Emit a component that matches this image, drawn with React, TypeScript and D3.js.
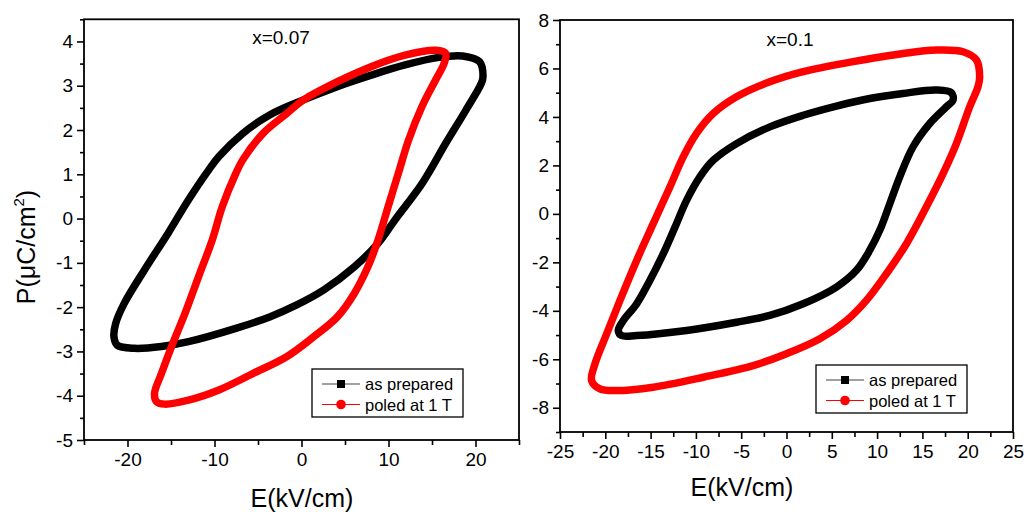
import React, { useEffect, useRef } from "react";
import * as d3 from "d3";

// P-E loops, [E (kV/cm), P (uC/cm2)]
const leftPrepared: [number, number][] = [
  [20.86, 3.2], [20.47, 3.54], [18.52, 3.67], [15.8, 3.64], [11.9, 3.47],
  [8.02, 3.24], [4.1, 2.98], [0.23, 2.68], [-3.66, 2.34], [-6.77, 1.92],
  [-9.49, 1.4], [-10.66, 1.1], [-13.0, 0.42], [-15.33, -0.33], [-18.05, -1.16],
  [-20.39, -1.92], [-21.36, -2.37], [-21.56, -2.67], [-21.17, -2.86], [-19.22, -2.93],
  [-16.1, -2.89], [-13.0, -2.78], [-7.55, -2.48], [-3.66, -2.22], [-0.55, -1.95],
  [2.57, -1.61], [6.07, -1.09], [8.79, -0.56], [10.74, -0.03], [13.85, 0.79],
  [16.58, 1.7], [18.9, 2.45], [20.66, 3.05]
];
const leftPoled: [number, number][] = [
  [16.58, 3.73], [15.41, 3.8], [11.9, 3.69], [8.0, 3.43], [4.12, 3.09],
  [0.23, 2.68], [-1.71, 2.37], [-4.44, 1.92], [-6.77, 1.32], [-7.55, 1.02],
  [-9.1, 0.27], [-10.27, -0.49], [-11.83, -1.31], [-13.39, -2.14], [-14.94, -2.89],
  [-16.1, -3.5], [-16.89, -3.94], [-16.69, -4.13], [-15.72, -4.19], [-13.0, -4.1],
  [-9.49, -3.87], [-5.6, -3.5], [-1.71, -3.12], [1.4, -2.67], [4.12, -2.22],
  [6.07, -1.69], [7.63, -1.09], [8.79, -0.49], [9.96, 0.27], [11.13, 1.02],
  [12.3, 1.77], [13.85, 2.53], [15.41, 3.13], [16.38, 3.5]
];
const rightPrepared: [number, number][] = [
  [18.38, 4.69], [18.2, 5.0], [16.54, 5.11], [12.87, 4.97], [9.19, 4.76],
  [5.51, 4.45], [1.84, 4.07], [-1.84, 3.59], [-5.51, 2.9], [-8.09, 2.21],
  [-9.56, 1.53], [-11.03, 0.56], [-12.3, -0.54], [-13.6, -1.64], [-15.07, -2.74],
  [-16.54, -3.71], [-18.01, -4.4], [-18.57, -4.81], [-18.2, -5.02], [-16.54, -5.02],
  [-11.03, -4.81], [-5.51, -4.47], [-1.84, -4.19], [1.84, -3.71], [5.51, -3.02],
  [7.72, -2.33], [9.19, -1.5], [10.29, -0.68], [11.4, 0.42], [12.5, 1.53],
  [13.97, 2.77], [15.81, 3.73], [17.65, 4.42]
];
const rightPoled: [number, number][] = [
  [21.32, 5.66], [20.96, 6.35], [19.49, 6.69], [16.54, 6.76], [12.87, 6.62],
  [7.35, 6.28], [1.84, 5.87], [-1.84, 5.45], [-5.51, 4.83], [-8.09, 4.14],
  [-9.93, 3.32], [-11.4, 2.35], [-12.87, 1.11], [-14.71, -0.4], [-16.54, -1.92],
  [-18.38, -3.57], [-19.85, -4.95], [-21.14, -6.19], [-21.51, -6.88], [-20.59, -7.22],
  [-18.75, -7.29], [-14.71, -7.15], [-9.19, -6.74], [-3.68, -6.26], [0.0, -5.77],
  [3.68, -5.15], [6.62, -4.4], [8.82, -3.57], [11.03, -2.47], [13.24, -1.23],
  [15.44, 0.29], [17.28, 1.66], [18.75, 2.9], [20.22, 4.42], [21.14, 5.25]
];

const seriesNames = ["as prepared", "poled at 1 T"];
const seriesColors = ["#000000", "#ff0000"];

const leftXTicks = [-20, -10, 0, 10, 20];
const leftXMinor = [-25, -15, -5, 5, 15, 25];
const leftYTicks = [-5, -4, -3, -2, -1, 0, 1, 2, 3, 4];
const leftYMinor = [-4.5, -3.5, -2.5, -1.5, -0.5, 0.5, 1.5, 2.5, 3.5, 4.5];
const rightXTicks = [-25, -20, -15, -10, -5, 0, 5, 10, 15, 20, 25];
const rightXMinor = [-22.5, -17.5, -12.5, -7.5, -2.5, 2.5, 7.5, 12.5, 17.5, 22.5];
const rightYTicks = [-8, -6, -4, -2, 0, 2, 4, 6, 8];
const rightYMinor = [-9, -7, -5, -3, -1, 1, 3, 5, 7];

const FONT = "Liberation Sans, Arial, sans-serif";

type PanelProps = {
  box: [number, number, number, number]; // left, right, top, bottom
  xDomain: [number, number];
  yDomain: [number, number];
  xTicks: number[];
  xMinor: number[];
  yTicks: number[];
  yMinor: number[];
  loops: [number, number][][];
  label: string;
  labelX: number;
  labelY: number;
  legend: [number, number]; // top-left of legend box
  legendW: number;
  titleX: number;
  titleY: number;
};

const Panel = (p: PanelProps) => {
  const axes = useRef<SVGGElement>(null);
  const [x0, x1, y0, y1] = p.box;
  const x = d3.scaleLinear().domain(p.xDomain).range([x0, x1]);
  const y = d3.scaleLinear().domain(p.yDomain).range([y1, y0]);
  const line = d3
    .line<[number, number]>()
    .x(d => x(d[0]))
    .y(d => y(d[1]))
    .curve(d3.curveCatmullRomClosed.alpha(0.5));

  useEffect(() => {
    const g = d3.select(axes.current);
    g.selectAll("*").remove();

    const style = (sel: any) => {
      sel.select(".domain").remove();
      sel.selectAll("line").attr("stroke", "#000").attr("stroke-width", 1.6);
      sel.selectAll("text").attr("fill", "#000").attr("font-family", FONT).attr("font-size", 19);
    };

    g.append("g")
      .attr("transform", `translate(0,${y1})`)
      .call(d3.axisBottom(x).tickValues(p.xMinor).tickSize(5).tickFormat(() => ""))
      .call(style);
    g.append("g")
      .attr("transform", `translate(0,${y1})`)
      .call(d3.axisBottom(x).tickValues(p.xTicks).tickSize(7).tickPadding(6).tickFormat(d3.format("d")))
      .call(style);
    g.append("g")
      .attr("transform", `translate(${x0},0)`)
      .call(d3.axisLeft(y).tickValues(p.yMinor).tickSize(4).tickFormat(() => ""))
      .call(style);
    g.append("g")
      .attr("transform", `translate(${x0},0)`)
      .call(d3.axisLeft(y).tickValues(p.yTicks).tickSize(7).tickPadding(4).tickFormat(d3.format("d")))
      .call(style);

    // minus signs as plain hyphens like the original
    g.selectAll("text").text(function () {
      return (d3.select(this).text() as string).replace("\u2212", "-");
    });
  }, []);

  const [lx, ly] = p.legend;
  return (
    <g>
      <defs>
        <clipPath id={`clip-${p.label}`}>
          <rect x={x0} y={y0} width={x1 - x0} height={y1 - y0} />
        </clipPath>
      </defs>
      <g clipPath={`url(#clip-${p.label})`}>
        {p.loops.map((d, i) => (
          <path
            key={i}
            d={line(d) || ""}
            fill="none"
            stroke={seriesColors[i]}
            strokeWidth={7.5}
            strokeLinejoin="round"
          />
        ))}
      </g>
      <rect x={x0} y={y0} width={x1 - x0} height={y1 - y0} fill="none" stroke="#000" strokeWidth={1.8} />
      <g ref={axes} />
      <text x={p.labelX} y={p.labelY} textAnchor="middle" fontFamily={FONT} fontSize={19}>
        {p.label}
      </text>
      <text x={p.titleX} y={p.titleY} textAnchor="middle" fontFamily={FONT} fontSize={25}>
        E(kV/cm)
      </text>
      <g transform={`translate(${lx},${ly})`}>
        <rect x={0} y={0} width={p.legendW} height={48} fill="#fff" stroke="#000" strokeWidth={1.3} />
        {seriesNames.map((name, i) => (
          <g key={name} transform={`translate(0,${15 + i * 20.5})`}>
            <line x1={10} x2={48} y1={0} y2={0} stroke={i === 0 ? "#444" : "#ff0000"} strokeWidth={1.2} />
            {i === 0 ? (
              <rect x={25} y={-4} width={8} height={8} fill="#000" />
            ) : (
              <circle cx={29} cy={0} r={4.8} fill="#ff0000" />
            )}
            <text x={53} y={6} fontFamily={FONT} fontSize={16.5}>
              {name}
            </text>
          </g>
        ))}
      </g>
    </g>
  );
};

const App = () => {
  return (
    <svg width={1026} height={514} style={{ position: "absolute", left: 0, top: 0, background: "#fff" }}>
      <rect x={0} y={0} width={1026} height={514} fill="#fff" />
      <Panel
        box={[84, 519, 19.3, 440]}
        xDomain={[-25, 25]}
        yDomain={[-5, 4.5]}
        xTicks={leftXTicks}
        xMinor={leftXMinor}
        yTicks={leftYTicks}
        yMinor={leftYMinor}
        loops={[leftPrepared, leftPoled]}
        label="x=0.07"
        labelX={281}
        labelY={44}
        legend={[312, 369]}
        legendW={151}
        titleX={302}
        titleY={507}
      />
      <Panel
        box={[560, 1013, 20, 432]}
        xDomain={[-25, 25]}
        yDomain={[-9, 8]}
        xTicks={rightXTicks}
        xMinor={rightXMinor}
        yTicks={rightYTicks}
        yMinor={rightYMinor}
        loops={[rightPrepared, rightPoled]}
        label="x=0.1"
        labelX={790}
        labelY={46}
        legend={[816, 365]}
        legendW={151}
        titleX={742}
        titleY={496}
      />
      <text
        transform="translate(35,247) rotate(-90)"
        textAnchor="middle"
        fontFamily={FONT}
        fontSize={25}
      >
        P(μC/cm
        <tspan fontSize={15} dy={-11}>2</tspan>
        <tspan dy={11}>)</tspan>
      </text>
    </svg>
  );
};

export default App;
